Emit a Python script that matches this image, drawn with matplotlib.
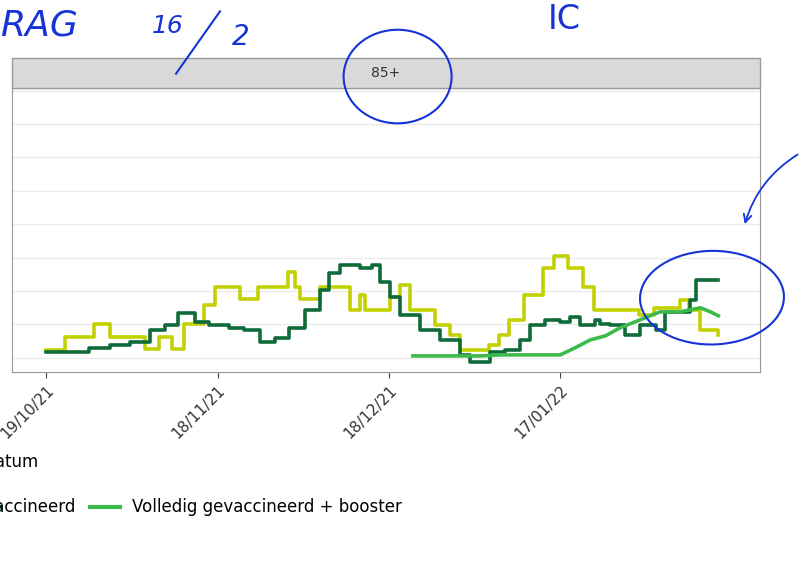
import matplotlib
matplotlib.use("Agg")
import matplotlib.pyplot as plt
import numpy as np
from matplotlib.patches import Rectangle, Ellipse, FancyArrowPatch
from matplotlib.lines import Line2D

# values: days since 19/10/21, level in gridline units
start = np.datetime64("2021-10-19")

niet_day = [0, 2.3, 3.2, 7.5, 8.4, 10.2, 11.1, 16.3, 17.2, 19.0, 19.8, 21.2, 22.1, 23.3, 24.2, 27.0, 27.7, 29.5, 33.0, 33.9, 35.6, 37.0, 40.9, 42.3, 43.5, 44.4, 47.0, 47.9, 51.4, 53.2, 54.9, 55.8, 58.4, 60.2, 61.9, 63.7, 65.4, 68.1, 70.7, 72.5, 75.7, 77.5, 79.3, 81.0, 83.6, 85.4, 87.1, 88.9, 91.4, 93.3, 94.1, 95.9, 99.5, 100.3, 103.8, 106.5, 109.1, 110.9, 112.6, 114.4, 117.7]
niet_val = [0.24, 0.24, 0.63, 0.63, 1.02, 1.02, 0.63, 0.63, 0.27, 0.27, 0.63, 0.63, 0.27, 0.27, 1.02, 1.02, 1.59, 2.12, 2.12, 1.77, 1.77, 2.12, 2.12, 2.57, 2.12, 1.77, 1.77, 2.12, 2.12, 1.44, 1.89, 1.44, 1.44, 1.83, 2.19, 1.44, 1.44, 0.99, 0.69, 0.24, 0.24, 0.39, 0.69, 1.14, 1.89, 1.89, 2.69, 3.05, 2.69, 2.69, 2.12, 1.44, 1.44, 1.44, 1.29, 1.50, 1.50, 1.74, 1.44, 0.84, 0.69]

vol_day = [0, 4.9, 7.5, 11.1, 14.6, 18.1, 20.7, 23.0, 26.0, 28.6, 32.1, 34.7, 37.4, 40.0, 42.6, 45.3, 47.9, 49.6, 51.4, 54.9, 57.0, 58.4, 60.2, 61.9, 65.4, 68.9, 72.5, 74.2, 77.7, 80.4, 83.0, 84.7, 87.4, 89.9, 91.8, 93.5, 96.1, 97.0, 98.8, 101.4, 103.1, 104.0, 106.7, 108.4, 111.0, 112.8, 113.7, 117.7]
vol_val = [0.18, 0.18, 0.30, 0.39, 0.48, 0.84, 0.99, 1.35, 1.08, 0.99, 0.90, 0.84, 0.48, 0.60, 0.90, 1.44, 2.04, 2.54, 2.78, 2.69, 2.78, 2.27, 1.83, 1.29, 0.84, 0.54, 0.09, -0.12, 0.18, 0.24, 0.54, 0.99, 1.14, 1.08, 1.23, 0.99, 1.14, 1.02, 0.99, 0.69, 0.69, 0.99, 0.84, 1.38, 1.38, 1.74, 2.33, 2.33]

boost_day = [64.2, 72.5, 76.0, 79.5, 84.7, 90.0, 92.6, 95.3, 97.9, 100.5, 104.0, 107.5, 111.0, 114.6, 116.3, 117.7]
boost_val = [0.06, 0.06, 0.06, 0.09, 0.09, 0.09, 0.30, 0.54, 0.66, 0.90, 1.14, 1.38, 1.38, 1.50, 1.38, 1.26]

tick_dates = ["2021-10-19", "2021-11-18", "2021-12-18", "2022-01-17"]
tick_labels = ["19/10/21", "18/11/21", "18/12/21", "17/01/22"]

c_niet = "#c3d100"
c_vol = "#0f6b3a"
c_boost = "#3dbb4a"
blue = "#1533d6"

fig = plt.figure(figsize=(8, 5.67), dpi=100)
ax = fig.add_axes([0.015, 0.344, 0.935, 0.501])

def dates(d):
    return start + np.round(np.array(d) * 24).astype(int).astype("timedelta64[h]")

ax.plot(dates(niet_day), niet_val, color=c_niet, lw=2.6, drawstyle="steps-post")
ax.plot(dates(vol_day), vol_val, color=c_vol, lw=2.6, drawstyle="steps-post")
ax.plot(dates(boost_day), boost_val, color=c_boost, lw=2.6)

ax.set_xlim(start - np.timedelta64(6, "D"), start + np.timedelta64(125, "D"))
ax.set_ylim(-0.42, 8.08)
ax.set_yticks(np.arange(0, 9))
ax.set_yticklabels([])
ax.tick_params(axis="y", length=0)
ax.grid(axis="y", color="#ebebeb", lw=1)
ax.set_xticks(np.array(tick_dates, dtype="datetime64[D]"))
ax.set_xticklabels(tick_labels, rotation=45, ha="right", rotation_mode="anchor", fontsize=11, color="#333333")
ax.tick_params(axis="x", color="#444444", length=4)
for s in ax.spines.values():
    s.set_color("#999999")

# facet strip
fig.patches.append(Rectangle((0.015, 0.845), 0.935, 0.053, transform=fig.transFigure,
                             facecolor="#d9d9d9", edgecolor="#999999", lw=1))
fig.text(0.4825, 0.871, "85+", ha="center", va="center", fontsize=10, color="#333333")

fig.text(0.048, 0.185, "Datum", ha="right", va="center", fontsize=12)
fig.lines.append(Line2D([-0.02, 0.0], [0.105, 0.105], transform=fig.transFigure, color=c_vol, lw=3))
fig.text(0.094, 0.105, "Volledig gevaccineerd", ha="right", va="center", fontsize=12)
fig.lines.append(Line2D([0.112, 0.150], [0.105, 0.105], transform=fig.transFigure, color=c_boost, lw=3))
fig.text(0.165, 0.105, "Volledig gevaccineerd + booster", ha="left", va="center", fontsize=12)

# handwritten annotations
fig.text(0.0, 0.955, "RAG", fontsize=26, color=blue, style="italic", va="center", ha="left")
fig.text(0.19, 0.955, "16", fontsize=18, color=blue, style="italic", va="center")
fig.lines.append(Line2D([0.22, 0.275], [0.87, 0.98], transform=fig.transFigure, color=blue, lw=1.5))
fig.text(0.29, 0.935, "2", fontsize=20, color=blue, style="italic", va="center")
fig.text(0.685, 0.965, "IC", fontsize=24, color=blue, va="center")
fig.patches.append(Ellipse((0.497, 0.865), 0.135, 0.165, transform=fig.transFigure, fill=False, edgecolor=blue, lw=1.5))
fig.patches.append(Ellipse((0.89, 0.475), 0.18, 0.165, angle=5, transform=fig.transFigure, fill=False, edgecolor=blue, lw=1.5))
fig.patches.append(FancyArrowPatch((1.0, 0.73), (0.93, 0.6), transform=fig.transFigure, arrowstyle="->",
                                   connectionstyle="arc3,rad=0.2", color=blue, lw=1.3, mutation_scale=14))

fig.savefig("out.png", dpi=100)
